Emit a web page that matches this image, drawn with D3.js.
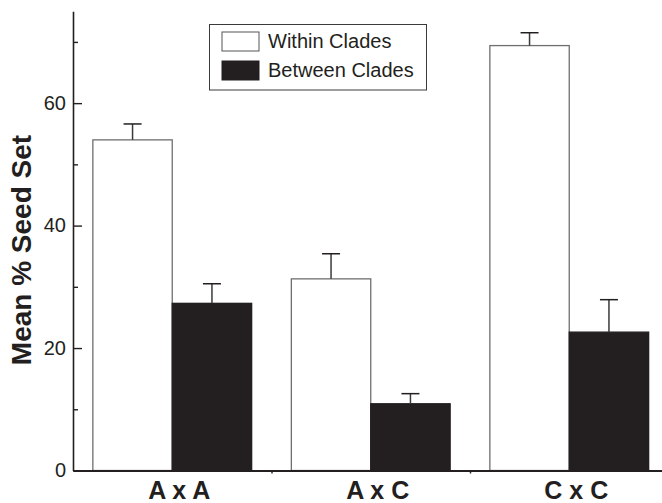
<!DOCTYPE html>
<html>
<head>
<meta charset="utf-8">
<script src="https://cdn.jsdelivr.net/npm/d3@7"></script>
<style>
    body { margin: 0; background: #fff; }
    svg { display: block; font-family: "Liberation Sans", Arial, Helvetica, sans-serif; }
</style>
</head>
<body>
<div id="chart"></div>
<script>
"use strict"

// data
let crosses = ["A x A", "A x C", "C x C"];
let seriesNames = ["Within Clades", "Between Clades"];
let withinMeans = [54.0, 31.3, 69.4];
let withinErrors = [2.6, 4.1, 2.1];
let betweenMeans = [27.3, 10.9, 22.6];
let betweenErrors = [3.2, 1.65, 5.3];
let majorTicks = [0, 20, 40, 60];
let minorTicks = [10, 30, 50, 70];

let seriesColors = ["#ffffff", "#231f20"];

let width = 662, height = 503;
let plotLeft = 73, plotRight = 668.5, plotTop = 11.3, plotBottom = 470.5;

let svg = d3.select("#chart").append("svg")
    .attr("width", width)
    .attr("height", height);

let x0 = d3.scaleBand()
    .domain(crosses)
    .range([plotLeft, plotRight]);

let x1 = d3.scaleBand()
    .domain(seriesNames)
    .range([0, x0.bandwidth()])
    .paddingOuter(0.25);

let y = d3.scaleLinear()
    .domain([0, 75])
    .range([plotBottom, plotTop]);

let rows = [];
crosses.forEach(function(c, i) {
    rows.push({ cross: c, series: seriesNames[0], mean: withinMeans[i], err: withinErrors[i], color: seriesColors[0] });
    rows.push({ cross: c, series: seriesNames[1], mean: betweenMeans[i], err: betweenErrors[i], color: seriesColors[1] });
});

// bars
svg.append("g").selectAll("rect")
    .data(rows)
    .join("rect")
    .attr("x", d => x0(d.cross) + x1(d.series))
    .attr("y", d => y(d.mean))
    .attr("width", x1.bandwidth())
    .attr("height", d => y(0) - y(d.mean))
    .style("fill", d => d.color)
    .style("stroke", d => d.color === "#ffffff" ? "#6f6f6f" : "#231f20")
    .style("stroke-width", "1.3px");

// error bars (upper only)
let errG = svg.append("g");
rows.forEach(function(d) {
    let cx = x0(d.cross) + x1(d.series) + x1.bandwidth() / 2;
    errG.append("line")
        .attr("x1", cx).attr("x2", cx)
        .attr("y1", y(d.mean)).attr("y2", y(d.mean + d.err))
        .style("stroke", "#3a3a3a")
        .style("stroke-width", "1.5px");
    errG.append("line")
        .attr("x1", cx - 9).attr("x2", cx + 9)
        .attr("y1", y(d.mean + d.err)).attr("y2", y(d.mean + d.err))
        .style("stroke", "#231f20")
        .style("stroke-width", "1.5px");
});

// y axis
let yAxis = svg.append("g")
    .attr("transform", "translate(" + plotLeft + ",0)")
    .call(d3.axisLeft(y).tickValues(majorTicks).tickSizeInner(-9).tickSizeOuter(0).tickPadding(7));
yAxis.select(".domain").style("stroke", "#231f20").style("stroke-width", "1.6px");
yAxis.selectAll(".tick line").style("stroke", "#231f20").style("stroke-width", "1.4px");
yAxis.selectAll(".tick text")
    .style("font-size", "20px")
    .style("fill", "#231f20")
    .style("font-family", "'Liberation Sans', Arial, sans-serif");

let yMinor = svg.append("g")
    .attr("transform", "translate(" + plotLeft + ",0)")
    .call(d3.axisLeft(y).tickValues(minorTicks).tickSizeInner(-5).tickSizeOuter(0).tickFormat(""));
yMinor.select(".domain").remove();
yMinor.selectAll(".tick line").style("stroke", "#231f20").style("stroke-width", "1.4px");

// x axis
let xAxis = svg.append("g")
    .attr("transform", "translate(0," + plotBottom + ")")
    .call(d3.axisBottom(x0).tickSize(0).tickPadding(10));
xAxis.select(".domain").style("stroke", "#231f20").style("stroke-width", "1.8px");
xAxis.selectAll(".tick text")
    .attr("dx", 7)
    .attr("dy", "0")
    .attr("y", 28.5)
    .style("font-size", "25px")
    .style("font-weight", "bold")
    .style("fill", "#231f20")
    .style("font-family", "'Liberation Sans', Arial, sans-serif");

let xBounds = d3.scaleLinear().domain([0, crosses.length]).range([plotLeft, plotRight]);
let xTicks = svg.append("g")
    .attr("transform", "translate(0," + plotBottom + ")")
    .call(d3.axisBottom(xBounds).tickValues([1, 2]).tickSize(3).tickFormat(""));
xTicks.select(".domain").remove();
xTicks.selectAll(".tick line").style("stroke", "#231f20").style("stroke-width", "1.4px");

// y axis title
svg.append("text")
    .attr("transform", "translate(31,250) rotate(-90)")
    .attr("text-anchor", "middle")
    .style("font-size", "28px")
    .style("font-weight", "bold")
    .style("fill", "#231f20")
    .text("Mean % Seed Set");

// legend
let legend = svg.append("g");
legend.append("rect")
    .attr("x", 209.5).attr("y", 24.5)
    .attr("width", 217).attr("height", 65.5)
    .style("fill", "none")
    .style("stroke", "#3a3a3a")
    .style("stroke-width", "1px");

let legY = d3.scalePoint().domain(seriesNames).range([41, 70]);
seriesNames.forEach(function(name, i) {
    legend.append("rect")
        .attr("x", 222).attr("y", legY(name) - 9)
        .attr("width", 37).attr("height", 19)
        .style("fill", seriesColors[i])
        .style("stroke", i === 0 ? "#555" : "#231f20")
        .style("stroke-width", "1px");
    legend.append("text")
        .attr("x", 268).attr("y", legY(name) + 7)
        .style("font-size", "20px")
        .style("fill", "#231f20")
        .text(name);
});
</script>
</body>
</html>
